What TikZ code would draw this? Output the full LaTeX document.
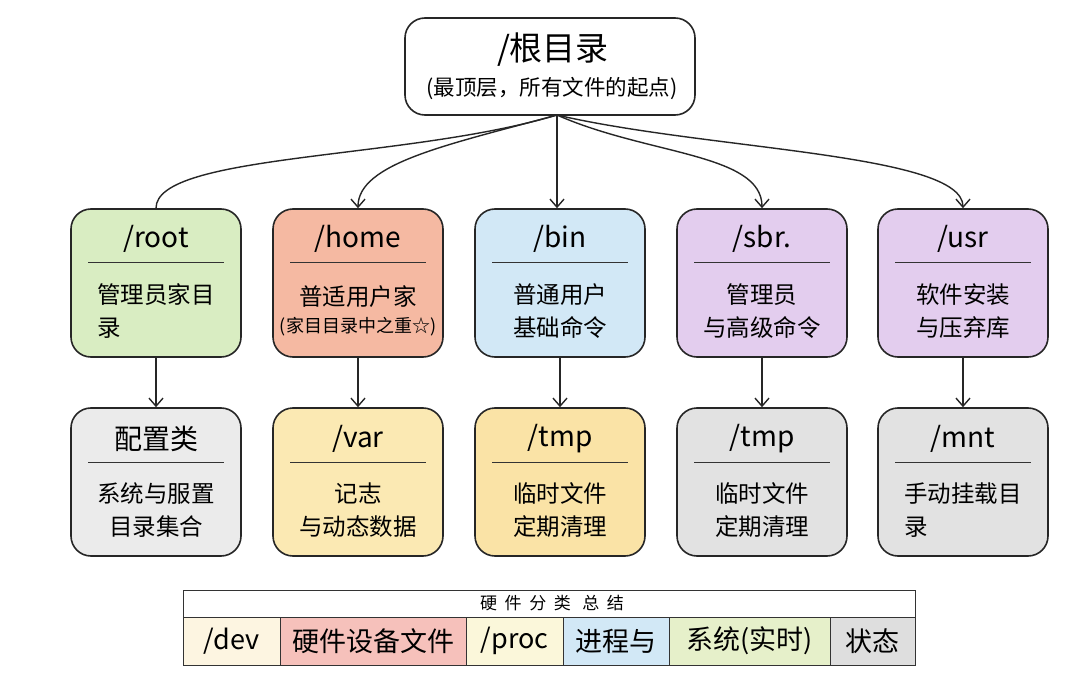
\documentclass[tikz,border=0pt]{standalone}
\usepackage{fontspec}
\setmainfont{Noto Sans CJK SC}
\usepackage{tikz}
\usetikzlibrary{arrows,arrows.meta}
\definecolor{cgreen}{HTML}{D9EDC2}
\definecolor{csalmon}{HTML}{F5B9A2}
\definecolor{cblue}{HTML}{D2E8F6}
\definecolor{cpurple}{HTML}{E3CDEE}
\definecolor{cgrey}{HTML}{EBEBEB}
\definecolor{cgreyb}{HTML}{E2E2E2}
\definecolor{cyellow}{HTML}{FBE9B3}
\definecolor{cyellowb}{HTML}{FAE3A6}
\definecolor{ccream}{HTML}{FDF5E1}
\definecolor{cpink}{HTML}{F6C1BB}
\definecolor{clemon}{HTML}{FBF7DA}
\definecolor{clime}{HTML}{E6F0CA}
\definecolor{cstate}{HTML}{DEDEDE}
\tikzstyle{edge}=[
	->,
	>={Straight Barb[length=8pt,width=14pt]},
	line width=1.4pt,
	draw=black!85
]
\tikzstyle{dbox}=[
	draw=black!85,
	line width=1.6pt,
	rounded corners=20pt,
	minimum width=170pt,
	minimum height=148pt,
	inner sep=0pt
]
\tikzstyle{dtitle}=[
	font=\fontsize{28}{32}\selectfont,
	inner sep=0pt
]
\tikzstyle{dbody}=[
	font=\fontsize{23.5}{33}\selectfont,
	inner sep=0pt
]
\tikzstyle{cell}=[
	font=\fontsize{27}{30}\selectfont,
	minimum height=48pt,
	inner sep=0pt
]

\begin{document}
\begin{tikzpicture}[x=1pt, y=-1pt, rule/.style={line width=1pt, draw=black!80}]
\useasboundingbox[fill=white] (0,0) rectangle (1080,698);

% root
\node[dbox, fill=white, minimum width=290pt, minimum height=97pt] at (550,66.5) (root) {};
\node[font=\fontsize{33}{36}\selectfont] at (553,50) (roottitle) {/根目录};
\node[font=\fontsize{21.5}{24}\selectfont] at (552,89) (rootsub) {(最顶层，所有文件的起点)};
\coordinate (rt) at (557,115);

% first row
\foreach \i/\x/\col/\name/\al/\desc in {
    1/156/cgreen/{/root}/left/{管理员家目\\录},
    2/358/csalmon/{/home}/center/{普适用户家\\[-6pt]{\fontsize{18}{20}\selectfont(家目目录中之重☆)}},
    3/560/cblue/{/bin}/center/{普通用户\\基础命令},
    4/762/cpurple/{/sbr.}/center/{管理员\\与高级命令},
    5/963/cpurple/{/usr}/center/{软件安装\\与压弃库}}{
    \node[dbox, fill=\col] at (\x,283) (b\i) {};
    \node[dtitle] at (\x,239) (bt\i) {\name};
    \draw[rule] (\x-68,262) -- (\x+68,262);
    \node[dbody, align=\al] at (\x,311) (bd\i) {\desc};
}

% second row
\foreach \i/\x/\col/\name/\al/\desc in {
    1/156/cgrey/配置类/center/{系统与服置\\目录集合},
    2/358/cyellow/{/var}/center/{记志\\与动态数据},
    3/560/cyellowb/{/tmp}/center/{临时文件\\定期清理},
    4/762/cgreyb/{/tmp}/center/{临时文件\\定期清理},
    5/963/cgreyb/{/mnt}/left/{手动挂载目\\录}}{
    \node[dbox, fill=\col] at (\x,482) (c\i) {};
    \node[dtitle] at (\x,439) (ct\i) {\name};
    \draw[rule] (\x-68,462) -- (\x+68,462);
    \node[dbody, align=\al] at (\x,510) (cd\i) {\desc};
    \draw[edge] (b\i) -- (c\i);
}

% root links
\draw[edge, -] (rt) .. controls +(-150,45) and +(0,-55) .. (b1.north);
\draw[edge] (rt) .. controls +(-110,30) and +(0,-45) .. (b2.north);
\draw[edge] (rt) -- (rt |- b3.north);
\draw[edge] (rt) .. controls +(90,40) and +(0,-55) .. (b4.north);
\draw[edge] (rt) .. controls +(150,35) and +(0,-55) .. (b5.north);

% table
\foreach \j/\l/\r/\col/\txt in {
    1/183/280/ccream/{/dev},
    2/280/466/cpink/硬件设备文件,
    3/466/563/clemon/{/proc},
    4/563/669/cblue/进程与,
    5/669/830/clime/系统(实时),
    6/830/915/cstate/状态}{
    \node[cell, fill=\col, minimum width=\r-\l] at ({(\l+\r)/2},641) (t\j) {\txt};
    \draw[rule] (\l,617) -- (\l,665);
}
\node[minimum width=732pt, minimum height=27pt, inner sep=0pt, font=\fontsize{17}{20}\selectfont] at (552,603.5) (thead) {硬\ \ 件\ \ 分\ \ 类\ \ \ 总\ \ 结};
\draw[rule] (183,590) rectangle (915,665);
\draw[rule] (183,617) -- (915,617);

\end{tikzpicture}
\end{document}
